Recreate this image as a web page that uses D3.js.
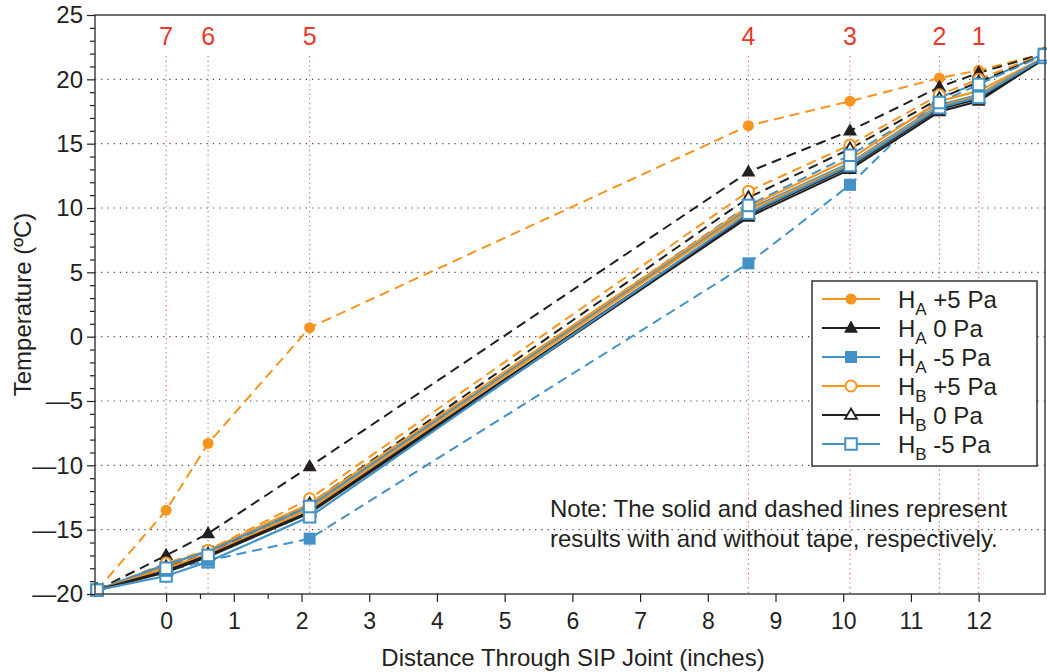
<!DOCTYPE html>
<html>
<head>
<meta charset="utf-8">
<script src="https://cdn.jsdelivr.net/npm/d3@7/dist/d3.min.js"></script>
<style>
  html, body { margin: 0; padding: 0; background: #fff; }
  svg { display: block; }
  text { font-family: "Liberation Sans", Arial, Helvetica, sans-serif; fill: #231f20; }
</style>
</head>
<body>
<svg id="chart" width="1047" height="672"></svg>
<script>
// ---------------- DATA ----------------
const positions = [-1.02, 0, 0.62, 2.12, 8.6, 10.1, 11.42, 12.0, 12.97];
const sensorPositions = [0, 0.62, 2.12, 8.6, 10.1, 11.42, 12.0];
const sensorLabels = ["7", "6", "5", "4", "3", "2", "1"];
const xTicks = [0, 1, 2, 3, 4, 5, 6, 7, 8, 9, 10, 11, 12];
const xMinorTicks = [0.5, 1.5];
const yTicks = [-20, -15, -10, -5, 0, 5, 10, 15, 20, 25];
const yGrid = [-15, -10, -5, 0, 5, 10, 15, 20];

// without tape (dashed)
const haPlus5Dashed  = [-19.7, -13.5, -8.3,  0.7, 16.4, 18.3, 20.1, 20.7, 22.0];
const ha0Dashed      = [-19.7, -17.0, -15.3, -10.1, 12.8, 16.0, 19.4, 20.5, 22.0];
const haMinus5Dashed = [-19.7, -18.2, -17.4, -15.7,  5.7, 11.8, 18.6, 19.7, 22.0];
const hbPlus5Dashed  = [-19.7, -17.6, -16.6, -12.6, 11.3, 14.9, 18.8, 20.0, 22.0];
const hb0Dashed      = [-19.7, -17.9, -16.9, -13.0, 10.8, 14.6, 18.5, 19.8, 21.9];
const hbMinus5Dashed = [-19.7, -18.0, -17.0, -13.2, 10.2, 14.1, 18.2, 19.6, 21.9];
// with tape (solid)
const haPlus5Solid   = [-19.7, -17.8, -16.6, -13.0, 10.1, 13.8, 18.3, 19.1, 21.7];
const ha0Solid       = [-19.7, -18.3, -17.1, -13.7,  9.3, 13.0, 17.5, 18.3, 21.6];
const haMinus5Solid  = [-19.7, -17.7, -16.7, -13.2,  9.9, 13.5, 18.0, 18.8, 21.7];
const hbPlus5Solid   = [-19.7, -18.0, -16.9, -13.4,  9.8, 13.4, 17.9, 18.7, 21.7];
const hb0Solid       = [-19.7, -18.2, -17.0, -13.6,  9.5, 13.2, 17.7, 18.5, 21.6];
const hbMinus5Solid  = [-19.7, -18.6, -17.5, -14.0,  9.6, 13.3, 17.8, 18.6, 21.7];

const legendNames = ["A +5 Pa", "A 0 Pa", "A -5 Pa", "B +5 Pa", "B 0 Pa", "B -5 Pa"];

// ---------------- STYLES ----------------
const ORANGE = "#f7941d", BLACK = "#231f20", BLUE = "#4292c6", RED = "#e8392a";
const seriesStyles = [
  { color: ORANGE, marker: "circle",   filled: true },
  { color: BLACK,  marker: "triangle", filled: true },
  { color: BLUE,   marker: "square",   filled: true },
  { color: ORANGE, marker: "circle",   filled: false },
  { color: BLACK,  marker: "triangle", filled: false },
  { color: BLUE,   marker: "square",   filled: false }
];
const dashedSeries = [haPlus5Dashed, ha0Dashed, haMinus5Dashed, hbPlus5Dashed, hb0Dashed, hbMinus5Dashed];
const solidSeries  = [haPlus5Solid, ha0Solid, haMinus5Solid, hbPlus5Solid, hb0Solid, hbMinus5Solid];

// ---------------- CHART ----------------
const svg = d3.select("#chart");
const pLeft = 95, pRight = 1045, pTop = 15, pBottom = 594;
const x = d3.scaleLinear().domain([-1.05, 12.98]).range([pLeft, pRight]);
const y = d3.scaleLinear().domain([-20, 25]).range([pBottom, pTop]);

// horizontal grid
svg.append("g").selectAll("line").data(yGrid).join("line")
  .attr("x1", pLeft).attr("x2", pRight)
  .attr("y1", d => y(d)).attr("y2", d => y(d))
  .attr("stroke", "#444").attr("stroke-width", 1.2)
  .attr("stroke-dasharray", "1.2,5");

// sensor vertical red dotted lines
svg.append("g").selectAll("line").data(sensorPositions).join("line")
  .attr("x1", d => x(d)).attr("x2", d => x(d))
  .attr("y1", 56).attr("y2", pBottom)
  .attr("stroke", "#ee6a60").attr("stroke-width", 1.2)
  .attr("stroke-dasharray", "1.2,3.5");

svg.append("g").selectAll("text").data(sensorPositions).join("text")
  .attr("x", d => x(d)).attr("y", 45)
  .attr("text-anchor", "middle")
  .style("fill", RED).style("font-size", "25px")
  .text((d, i) => sensorLabels[i]);

// marker drawing
function drawMarker(g, style, cx, cy) {
  const fill = style.filled ? style.color : "#fff";
  const sw = style.filled ? 0 : 2;
  if (style.marker === "circle") {
    g.append("circle").attr("cx", cx).attr("cy", cy).attr("r", 5.5)
      .attr("fill", fill).attr("stroke", style.color).attr("stroke-width", sw);
  } else if (style.marker === "triangle") {
    const s = style.filled ? 14 : 12;
    const h = s * 0.87;
    g.append("path")
      .attr("d", `M${cx},${cy - h * 0.62} L${cx + s / 2},${cy + h * 0.38} L${cx - s / 2},${cy + h * 0.38} Z`)
      .attr("fill", fill).attr("stroke", style.color).attr("stroke-width", style.filled ? 0 : 1.8)
      .attr("stroke-linejoin", "miter");
  } else {
    const s = style.filled ? 12 : 11.5;
    g.append("rect").attr("x", cx - s / 2).attr("y", cy - s / 2).attr("width", s).attr("height", s)
      .attr("fill", fill).attr("stroke", style.color).attr("stroke-width", sw);
  }
}

const line = d3.line().x((d, i) => x(positions[i])).y(d => y(d));
const seriesG = svg.append("g");

function drawSeries(values, style, dashed) {
  seriesG.append("path").datum(values)
    .attr("d", line)
    .attr("fill", "none")
    .attr("stroke", style.color)
    .attr("stroke-width", dashed ? 2 : 2.2)
    .attr("stroke-dasharray", dashed ? "10,6" : null);
}
dashedSeries.forEach((v, i) => drawSeries(v, seriesStyles[i], true));
solidSeries.forEach((v, i) => drawSeries(v, seriesStyles[i], false));
const markerG = svg.append("g");
[...solidSeries.map((v, i) => [v, i]), ...dashedSeries.map((v, i) => [v, i])].forEach(([v, i]) => {
  v.forEach((val, j) => drawMarker(markerG, seriesStyles[i], x(positions[j]), y(val)));
});

// frame
svg.append("rect").attr("x", pLeft).attr("y", pTop).attr("width", pRight - pLeft).attr("height", pBottom - pTop)
  .attr("fill", "none").attr("stroke", "#4d4d4d").attr("stroke-width", 1.6);

// x axis
const xAxis = d3.axisBottom(x).tickValues(xTicks).tickSize(8).tickPadding(11).tickFormat(d3.format("d"));
const xg = svg.append("g").attr("transform", `translate(0,${pBottom})`).call(xAxis);
xg.select(".domain").remove();
xg.selectAll("line").attr("stroke", "#231f20").attr("stroke-width", 1.2);
xg.selectAll("text").style("font-size", "23px").style("font-family", "Liberation Sans, Arial, sans-serif").attr("fill", "#231f20");
const xMinor = d3.axisBottom(x).tickValues(xMinorTicks).tickSize(5).tickFormat("");
const xmg = svg.append("g").attr("transform", `translate(0,${pBottom})`).call(xMinor);
xmg.select(".domain").remove();
xmg.selectAll("line").attr("stroke", "#231f20").attr("stroke-width", 1.2);

// y axis
const yFmt = d => (d < 0 ? "\u2014" + Math.abs(d) : String(d));
const yAxis = d3.axisLeft(y).tickValues(yTicks).tickSize(8).tickPadding(4).tickFormat(yFmt);
const yg = svg.append("g").attr("transform", `translate(${pLeft},0)`).call(yAxis);
yg.select(".domain").remove();
yg.selectAll("line").attr("stroke", "#231f20").attr("stroke-width", 1.2);
yg.selectAll("text").style("font-size", "24px").style("font-family", "Liberation Sans, Arial, sans-serif").attr("fill", "#231f20");
const yMinor = d3.axisLeft(y).tickValues(d3.range(-20, 26, 1).filter(v => v % 5 !== 0)).tickSize(5).tickFormat("");
const ymg = svg.append("g").attr("transform", `translate(${pLeft},0)`).call(yMinor);
ymg.select(".domain").remove();
ymg.selectAll("line").attr("stroke", "#231f20").attr("stroke-width", 1.2);

// axis titles
svg.append("text").attr("x", 573).attr("y", 666)
  .attr("text-anchor", "middle").style("font-size", "24px")
  .text("Distance Through SIP Joint (inches)");
svg.append("text").attr("transform", `translate(31,${(pTop + pBottom) / 2}) rotate(-90)`)
  .attr("text-anchor", "middle").style("font-size", "24px")
  .text("Temperature (ºC)");

// legend
const lg = svg.append("g");
lg.append("rect").attr("x", 812).attr("y", 281).attr("width", 225).attr("height", 185)
  .attr("fill", "#fff").attr("stroke", "#333").attr("stroke-width", 1.5);
legendNames.forEach((name, i) => {
  const ly = 299 + i * 29;
  const st = seriesStyles[i];
  lg.append("line").attr("x1", 822).attr("x2", 880).attr("y1", ly).attr("y2", ly)
    .attr("stroke", st.color).attr("stroke-width", 2.2);
  drawMarker(lg, st, 851, ly);
  const t = lg.append("text").attr("x", 898).attr("y", ly + 8.5).style("font-size", "24px");
  t.append("tspan").text("H");
  t.append("tspan").attr("dy", 7).style("font-size", "17px").text(name.split(" ")[0]);
  t.append("tspan").attr("dy", -7).text(" " + name.split(" ").slice(1).join(" "));
});

// note
const note = svg.append("text").attr("x", 550).attr("y", 517).style("font-size", "24px");
note.append("tspan").attr("x", 550).text("Note: The solid and dashed lines represent");
note.append("tspan").attr("x", 550).attr("dy", 30).text("results with and without tape, respectively.");
</script>
</body>
</html>
